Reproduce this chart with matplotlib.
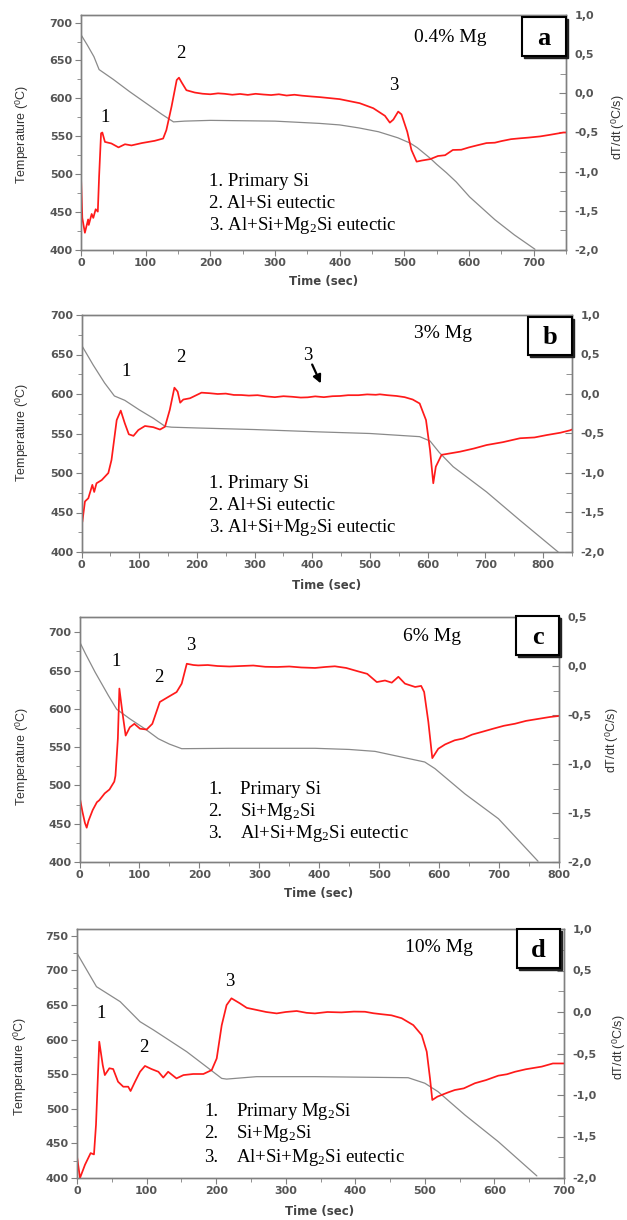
import matplotlib
matplotlib.use("Agg")
import matplotlib.pyplot as plt
from matplotlib.patches import Rectangle, FancyArrowPatch
from matplotlib.ticker import MultipleLocator, FuncFormatter

plt.rcParams['axes.unicode_minus'] = False
plt.rcParams['mathtext.fontset'] = 'custom'
plt.rcParams['mathtext.rm'] = 'Liberation Serif'
plt.rcParams['mathtext.it'] = 'Liberation Serif:italic'
plt.rcParams['mathtext.sf'] = 'Liberation Sans'

# ---------------- DATA ----------------
# Panel a: 0.4% Mg
a_cool_t = [0, 10, 20, 28, 50, 75, 100, 125, 143, 160, 200, 300, 369, 400, 430, 460, 490, 509, 520, 530, 540, 550, 565, 580, 601, 640, 670, 702]
a_cool_T = [684, 670, 655, 638, 625, 609, 594, 579, 569, 570, 571, 570, 567, 565, 561, 556, 548, 541, 535, 528, 521, 513, 502, 490, 470, 440, 420, 401]
a_rate_t = [0, 2, 6, 11, 12, 16.5, 19, 22.7, 26, 28, 31, 33, 37, 47, 58, 68, 78, 94, 114, 127, 132, 140, 148, 151.5, 155.6,
            163, 176, 188, 200, 212, 222, 234, 246, 258, 270, 282, 294, 306, 318, 330, 342, 356, 370,
            400, 431, 452, 470, 477.6, 483, 490.5, 495.6, 504.5, 511, 519,
            527, 540, 552, 563, 575, 588, 600, 612, 627, 640, 650, 665, 679, 692, 710, 725, 746, 750]
a_rate = [-1.06, -1.59, -1.78, -1.61, -1.68, -1.54, -1.59, -1.48, -1.51, -1.06, -0.51, -0.50, -0.62, -0.64, -0.69, -0.65,
          -0.665, -0.635, -0.606, -0.577, -0.47, -0.17, 0.17, 0.20, 0.14,
          0.04, 0.01, -0.005, -0.012, 0.0, -0.006, -0.018, -0.008, -0.02, -0.006, -0.015, -0.022, -0.012, -0.028,
          -0.018, -0.03, -0.04, -0.049,
          -0.074, -0.126, -0.19, -0.287, -0.374, -0.335, -0.233, -0.268, -0.49, -0.723, -0.872,
          -0.858, -0.84, -0.80, -0.79, -0.723, -0.72, -0.69, -0.665, -0.635, -0.63, -0.61, -0.585, -0.574, -0.565,
          -0.55, -0.53, -0.50, -0.50]

# Panel b: 3% Mg
b_cool_t = [0, 20, 40, 57, 75, 100, 125, 145, 156, 200, 300, 413, 500, 586, 604, 620, 644, 702, 760, 826]
b_cool_T = [662, 637, 614, 597.5, 592, 580, 569, 559, 558, 557, 555, 552, 550, 546, 540.5, 526, 508, 476, 440, 400]
b_rate_t = [0, 1.4, 6, 11.8, 18.8, 22, 26, 35, 46.5, 52, 61, 68, 75, 82, 90, 98.5, 110, 124.4, 136, 144.7, 153, 161,
            166.6, 171, 176.4, 188, 208, 222, 236, 250, 264, 277, 290, 305, 320, 335, 350, 365, 380, 392, 405, 420,
            435, 448, 462, 480, 495, 510, 517, 530, 546, 560, 574, 586, 597, 604,
            609.6, 614, 624, 640, 656, 680, 702, 730, 760, 785, 806, 830, 846.5, 850]
b_rate = [-1.43, -1.62, -1.36, -1.32, -1.15, -1.24, -1.13, -1.09, -1.00, -0.835, -0.33, -0.21, -0.37, -0.51, -0.53,
          -0.456, -0.405, -0.42, -0.45, -0.414, -0.20, 0.08,
          0.03, -0.11, -0.07, -0.054, 0.017, 0.01, 0.0, 0.005, -0.012, -0.013, -0.02, -0.015, -0.03, -0.04, -0.028,
          -0.035, -0.045, -0.042, -0.03, -0.04,
          -0.028, -0.025, -0.015, -0.015, -0.005, -0.01, -0.004, -0.015, -0.025, -0.04, -0.07, -0.12, -0.33, -0.71,
          -1.13, -0.92, -0.77, -0.75, -0.73, -0.69, -0.646, -0.61, -0.56, -0.55, -0.52, -0.49, -0.46, -0.45]

# Panel c: 6% Mg
c_cool_t = [0, 10, 26, 48, 62, 84, 109, 131.5, 150, 170.5, 250, 393, 450, 493, 576, 593, 643, 699, 765]
c_cool_T = [688, 672, 648, 617.7, 599.5, 587, 574, 561, 554, 548, 548.5, 548.5, 547, 544.5, 530.6, 522, 489, 456.5, 401]
c_rate_t = [0, 5, 9, 12, 15, 22, 29, 33, 42, 50, 54, 58, 60, 64, 66.5, 71.5, 77, 84, 91.5, 101, 112, 121.5, 134, 148,
            162, 170.5, 179, 190, 198, 214, 230, 250, 270, 290, 310, 330, 350, 370, 393, 410, 426, 445, 465, 480,
            496, 509.7, 521, 532, 543, 560, 570, 575, 582, 588.6,
            598.6, 610, 626, 640, 655, 671, 690, 708, 726.6, 745, 765, 785, 800]
c_rate = [-1.33, -1.49, -1.60, -1.65, -1.58, -1.47, -1.39, -1.37, -1.30, -1.26, -1.22, -1.18, -1.12, -0.74, -0.23,
          -0.47, -0.71, -0.625, -0.59, -0.64, -0.648, -0.59, -0.367, -0.316,
          -0.266, -0.18, 0.023, 0.01, 0.006, 0.01, 0.0, -0.005, 0.0, 0.005, -0.008, -0.01, -0.005, -0.015, -0.02,
          -0.01, -0.003, -0.02, -0.055, -0.08,
          -0.164, -0.148, -0.17, -0.11, -0.18, -0.214, -0.203, -0.265, -0.57, -0.94,
          -0.844, -0.80, -0.758, -0.74, -0.70, -0.673, -0.64, -0.61, -0.589, -0.56, -0.54, -0.52, -0.51]

# Panel d: 10% Mg
d_cool_t = [0, 28, 62, 90.6, 110, 157.7, 208, 215, 258, 342, 476, 500, 519, 557.7, 605.6, 661]
d_cool_T = [725, 676.6, 655, 626, 614, 582.6, 544, 543, 546.5, 546.5, 545, 537, 524.8, 491, 452.5, 403]
d_rate_t = [0, 4.3, 11.5, 19.6, 24.4, 27.3, 32, 37, 40, 46.5, 52, 59, 66.5, 73.6, 77, 83.4, 90.6, 97.7, 107, 117, 124,
            131, 143, 153, 167, 181.6, 193.6, 200.8, 208, 215, 222, 234, 244, 258, 272, 287, 300, 315.8, 330, 342,
            360, 380, 398, 414, 426, 438, 452,
            466.7, 483.4, 495.5, 502.7, 507.4, 510.7, 518, 524, 533, 543, 556, 572, 588, 605.6, 618, 629.6, 645,
            668, 684, 700]
d_rate = [-1.74, -2.0, -1.84, -1.70, -1.716, -1.36, -0.358, -0.64, -0.76, -0.678, -0.687, -0.84, -0.90, -0.90, -0.952,
          -0.84, -0.72, -0.65, -0.687, -0.72, -0.79,
          -0.72, -0.80, -0.76, -0.747, -0.747, -0.70, -0.56, -0.16, 0.083, 0.165, 0.105, 0.05, 0.025, 0.0, -0.017,
          0.0, 0.012, -0.01, -0.017,
          0.0, -0.005, 0.005, 0.003, -0.015, -0.027, -0.04,
          -0.075, -0.158, -0.278, -0.478, -0.80, -1.06, -1.02, -1.0, -0.97, -0.94, -0.92, -0.858, -0.82, -0.767,
          -0.75, -0.72, -0.69, -0.658, -0.62, -0.62]

mg_labels = ["0.4% Mg", "3% Mg", "6% Mg", "10% Mg"]
panel_letters = ["a", "b", "c", "d"]
legend_a = ["1. Primary Si", "2. Al+Si eutectic", "3. Al+Si+Mg$_2$Si eutectic"]
legend_b = ["1. Primary Si", "2. Al+Si eutectic", "3. Al+Si+Mg$_2$Si eutectic"]
legend_c = ["Primary Si", "Si+Mg$_2$Si", "Al+Si+Mg$_2$Si eutectic"]
legend_d = ["Primary Mg$_2$Si", "Si+Mg$_2$Si", "Al+Si+Mg$_2$Si eutectic"]

# ---------------- LAYOUT (pixels) ----------------
W, H = 627, 1220
fig = plt.figure(figsize=(W / 100, H / 100), dpi=100)

def fx(x):
    return x / W

def fy(y):
    return 1 - y / H

panels = [
    dict(box=(81, 566, 15, 250), xlim=(0, 750), xt=range(0, 701, 100), ylim=(400, 710), yt=range(400, 701, 50),
         rlim=(-2, 1.0), cool=(a_cool_t, a_cool_T), rate=(a_rate_t, a_rate),
         mg=(450, 38), letter=(522, 566, 17, 56), legend=legend_a, legy=[181, 204, 226], legx=(209, None),
         nums=[(105, 117), (181, 53), (394, 85)], xlab=(324, 282), ylab=(22, 135), rlab=(618, 127)),
    dict(box=(81.5, 572, 315, 552), xlim=(0, 850), xt=range(0, 801, 100), ylim=(400, 700), yt=range(400, 701, 50),
         rlim=(-2, 1.0), cool=(b_cool_t, b_cool_T), rate=(b_rate_t, b_rate),
         mg=(443, 334), letter=(528, 572, 317, 355), legend=legend_b, legy=[483, 506, 528], legx=(209, None),
         nums=[(126, 372), (181, 357), (308, 356)], xlab=(327, 585), ylab=(22, 433), rlab=None),
    dict(box=(79.5, 559, 617, 862), xlim=(0, 800), xt=range(0, 801, 100), ylim=(400, 720), yt=range(400, 701, 50),
         rlim=(-2, 0.5), cool=(c_cool_t, c_cool_T), rate=(c_rate_t, c_rate),
         mg=(432, 637), letter=(516, 559, 616, 655), legend=legend_c, legy=[789, 811, 833], legx=(208, 240),
         nums=[(116, 661), (159, 678), (191, 645)], xlab=(319, 894), ylab=(22, 757), rlab=(612, 740)),
    dict(box=(77, 564, 929, 1178), xlim=(0, 700), xt=range(0, 701, 100), ylim=(400, 760), yt=range(400, 751, 50),
         rlim=(-2, 1.0), cool=(d_cool_t, d_cool_T), rate=(d_rate_t, d_rate),
         mg=(439, 948), letter=(517, 560, 929, 968), legend=legend_d, legy=[1111, 1133, 1157], legx=(204, 236),
         nums=[(101, 1014), (144, 1047), (230, 982)], xlab=(320, 1212), ylab=(20, 1067), rlab=(619, 1047)),
]

tick_col = '#555555'
spine_col = '#808080'
serif = 'Liberation Serif'
sans = 'DejaVu Sans'
lab = 'Liberation Sans'

for i, p in enumerate(panels):
    l, r, t, b = p['box']
    ax = fig.add_axes([fx(l), fy(b), (r - l) / W, (b - t) / H])
    ax2 = ax.twinx()
    ax.plot(*p['cool'], color='#8a8a8a', lw=0.9, solid_capstyle='round')
    ax2.plot(*p['rate'], color='#ff1a1a', lw=1.25)
    ax.set_xlim(*p['xlim'])
    ax.set_ylim(*p['ylim'])
    ax2.set_ylim(*p['rlim'])
    ax.set_xticks(list(p['xt']))
    ax.set_yticks(list(p['yt']))
    ax.xaxis.set_minor_locator(MultipleLocator(50))
    ax.yaxis.set_minor_locator(MultipleLocator(25))
    ax2.yaxis.set_major_locator(MultipleLocator(0.5))
    ax2.yaxis.set_minor_locator(MultipleLocator(0.25))
    ax2.yaxis.set_major_formatter(FuncFormatter(lambda v, pos: f"{v:.1f}".replace('.', ',')))
    for a_ in (ax, ax2):
        for s in a_.spines.values():
            s.set_color(spine_col)
            s.set_linewidth(1.0)
    ax.tick_params(axis='both', which='both', direction='out', color=spine_col, labelcolor=tick_col,
                   labelsize=8, pad=2)
    ax.tick_params(which='major', length=4)
    ax.tick_params(which='minor', length=3)
    ax2.tick_params(axis='y', which='both', direction='in', color=spine_col, labelcolor=tick_col,
                    labelsize=8, pad=6)
    ax2.tick_params(which='major', length=5)
    ax2.tick_params(which='minor', length=4)
    for lbl in ax.get_xticklabels() + ax.get_yticklabels() + ax2.get_yticklabels():
        lbl.set_fontfamily(sans)
        lbl.set_fontweight('bold')

    # axis labels
    fig.text(fx(p['xlab'][0]), fy(p['xlab'][1]), "Time (sec)", ha='center', va='center',
             fontsize=8.5, fontweight='bold', color='#444444', family=sans)
    fig.text(fx(p['ylab'][0]), fy(p['ylab'][1]), r"Temperature ($^\mathsf{0}$C)", ha='center', va='center',
             rotation=90, fontsize=9, color='#333333', family=lab)
    if p['rlab'] is not None:
        fig.text(fx(p['rlab'][0]), fy(p['rlab'][1]), r"dT/dt ($^\mathsf{0}$C/s)", ha='center', va='center',
                 rotation=90, fontsize=9, color='#333333', family=lab)

    # composition label
    fig.text(fx(p['mg'][0]), fy(p['mg'][1]), mg_labels[i], ha='center', va='center',
             fontsize=14, family=serif, color='black')

    # letter box with shadow
    bl, br, bt, bb = p['letter']
    fig.add_artist(Rectangle((fx(bl) + 2 / W, fy(bb) - 2 / H), (br - bl) / W, (bb - bt) / H,
                             transform=fig.transFigure, facecolor='#222222', edgecolor='#222222', lw=1, zorder=5))
    fig.add_artist(Rectangle((fx(bl), fy(bb)), (br - bl) / W, (bb - bt) / H,
                             transform=fig.transFigure, facecolor='white', edgecolor='black', lw=1.5, zorder=6))
    fig.text(fx((bl + br) / 2), fy((bt + bb) / 2 + 2), panel_letters[i], ha='center', va='center',
             fontsize=19, fontweight='bold', family=serif, zorder=7)

    # legend list
    nx, tx = p['legx']
    for k, (txt, yy) in enumerate(zip(p['legend'], p['legy'])):
        if tx is None:
            fig.text(fx(nx), fy(yy), txt, ha='left', va='center', fontsize=13.5, family=serif)
        else:
            fig.text(fx(nx), fy(yy), f"{k + 1}.", ha='left', va='center', fontsize=13.5, family=serif)
            fig.text(fx(tx), fy(yy), txt, ha='left', va='center', fontsize=13.5, family=serif)

    # peak numbers
    for k, (px, py) in enumerate(p['nums']):
        fig.text(fx(px), fy(py), str(k + 1), ha='center', va='center', fontsize=13.5, family=serif)

# arrow in panel b (figure level, above the axes)
arrow = FancyArrowPatch((fx(311), fy(362)), (fx(322), fy(386)), transform=fig.transFigure,
                        arrowstyle='-|>', mutation_scale=12, lw=1.6, color='black', zorder=10)
fig.add_artist(arrow)

fig.savefig("out.png", dpi=100, facecolor='white')
